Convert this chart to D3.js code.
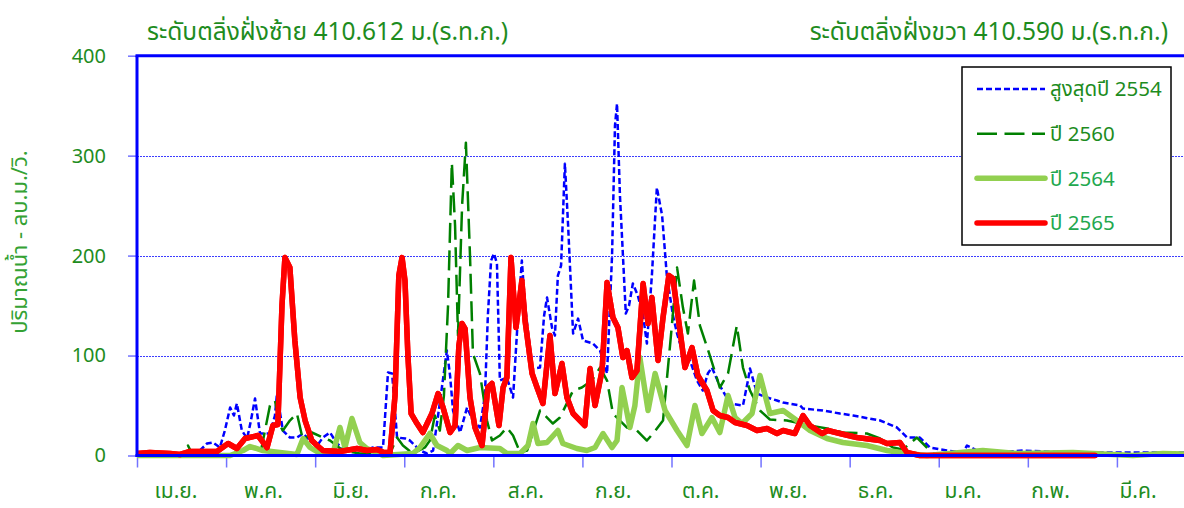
<!DOCTYPE html>
<html><head><meta charset="utf-8">
<script src="https://cdn.jsdelivr.net/npm/d3@7"></script>
<style>
body{margin:0;background:#fff}
svg{display:block;font-family:"Noto Sans Thai","Leelawadee UI",Tahoma,"Noto Sans",sans-serif}
</style>
</head><body>
<svg id="c" width="1184" height="508"></svg>
<script>
// ---- data ----
const months = ["เม.ย.","พ.ค.","มิ.ย.","ก.ค.","ส.ค.","ก.ย.","ต.ค.","พ.ย.","ธ.ค.","ม.ค.","ก.พ.","มี.ค."];
const yTicks = [0,100,200,300,400];
const titleLeft = "ระดับตลิ่งฝั่งซ้าย 410.612 ม.(ร.ท.ก.)";
const titleRight = "ระดับตลิ่งฝั่งขวา 410.590 ม.(ร.ท.ก.)";
const yTitle = "ปริมาณน้ำ - ลบ.ม./วิ.";
const seriesNames = ["สูงสุดปี 2554","ปี 2560","ปี 2564","ปี 2565"];

// [day from 1 Apr, m3/s]
const s2554 = [[0,0],[4.4,1],[12.3,1],[18.1,3],[21.5,5],[23.9,12],[25.9,13],[28.3,8],[30,25],[31.8,48],[33.1,40],[34.1,52],[35.8,25],[37.6,17],[38.9,35],[40.3,57],[42,22],[45.4,22],[47.1,40],[47.8,62],[49.8,25],[52.2,18],[54.6,18],[56.7,22],[59.1,15],[61.5,10],[63.5,18],[65.9,23],[68.3,12],[70.3,7],[73.7,5],[77.2,5],[80.6,8],[84,8],[85.7,83],[87.1,82],[88.8,18],[91.6,17],[93.2,15],[96.6,5],[99,2],[101.1,5],[102.8,40],[104.1,68],[105.8,105],[106.9,80],[107.9,45],[110.3,23],[112.7,48],[114.7,35],[117.1,28],[118.8,60],[119.8,140],[120.9,195],[121.9,202],[122.9,192],[123.9,75],[126.3,78],[128.4,58],[130.1,140],[131.4,195],[132.5,150],[134.9,87],[137.6,88],[139,140],[140,158],[141.7,128],[142.7,120],[143.7,180],[144.8,190],[146.1,292],[147.2,230],[148.9,122],[150.6,137],[152.3,115],[155.7,112],[158.1,105],[160.5,82],[162.2,200],[163.2,330],[163.9,352],[164.9,260],[166.9,142],[168,150],[169.3,172],[171,160],[172.8,140],[174.1,112],[175.8,180],[177.5,268],[179.3,240],[180.9,180],[183,140],[184.4,122],[186.4,102],[188.8,95],[191.2,75],[193.2,65],[194.9,82],[196.3,88],[199,70],[202.5,52],[206.9,50],[208.6,75],[209.3,87],[211.7,62],[215.1,58],[218.5,55],[220.6,53],[226.4,50],[227.4,47],[234.2,45],[240,42],[244.5,40],[253.7,35],[259.5,28],[262.9,18],[267.3,18],[270.7,8],[276.5,5],[282,3],[283.4,10],[286.8,5],[294.6,3],[302.5,5],[317.5,3],[342.4,3],[365,3]];

const s2560 = [[0,0],[14.7,0],[17.4,10],[19.1,0],[42,0],[43.7,25],[45.4,50],[47.1,55],[48.8,30],[49.8,25],[52.2,35],[54.6,42],[56.7,15],[59.7,23],[63.5,18],[65.9,15],[70.3,5],[76.1,2],[86.4,2],[88.8,18],[90.8,10],[94.2,2],[98.3,8],[100,15],[101.7,40],[103.4,25],[104.8,60],[106.2,150],[107.5,293],[108.6,230],[109.6,120],[111,250],[112.3,313],[113.7,200],[114.7,102],[117.1,82],[119.5,35],[121.2,15],[123.9,20],[126.3,28],[128.4,20],[130.8,3],[133.2,5],[137.6,45],[142,32],[144.4,38],[148.9,65],[151.9,68],[155.3,75],[158.1,88],[160.5,75],[162.5,42],[167.3,28],[170.7,25],[174.1,15],[176.2,22],[179.6,35],[182,110],[184.4,188],[186.4,148],[188.1,122],[190.2,175],[192.2,130],[195.6,100],[199,68],[201.8,82],[204.8,130],[206.9,88],[209.3,65],[212.7,45],[216.1,36],[221.9,35],[229.8,30],[235.6,27],[241,23],[249.2,22],[253.7,17],[258.1,8],[261.5,6],[266.3,18],[269.7,8],[271.8,2],[281,1],[300,0]];

const s2564 = [[0,0],[31.8,0],[36.2,5],[38.6,9],[43,5],[48.8,3],[54.6,1],[56.7,17],[59.1,8],[62.5,2],[66.9,2],[69.3,28],[71,8],[73.4,37],[76.1,13],[78.5,7],[84,0],[94.2,2],[96.6,8],[100,22],[102.4,10],[105.8,5],[106.9,2],[109.6,10],[112.7,5],[117.1,8],[123.9,7],[126.3,2],[130.8,2],[133.5,10],[135.2,32],[136.9,12],[140,13],[143.7,25],[145.4,12],[150.2,7],[153.6,5],[156.4,8],[159.1,22],[162.2,8],[163.9,15],[165.6,68],[168.3,28],[170,50],[171.7,98],[174.5,45],[176.9,82],[180.3,45],[184.4,25],[187.8,10],[190.5,50],[192.9,22],[196.3,38],[199,23],[201.8,60],[204.2,38],[206.6,32],[210,42],[212.7,80],[216.1,42],[220.6,45],[225.3,35],[229.8,25],[235.6,17],[241,13],[249.2,10],[256.1,5],[262.9,2],[269.7,0],[288.8,5],[300.4,2],[319.6,3],[340,0],[350.3,2],[365,1]];

const s2565 = [[0,2],[4.4,3],[11.3,2],[14.7,1],[18.1,4],[27.3,4],[31.1,12],[34.1,7],[36.9,17],[41.3,20],[44.4,8],[46.4,30],[48.1,31],[49.5,150],[50.5,198],[52.2,188],[53.9,115],[55.7,58],[57.4,35],[59.7,15],[61.5,10],[63.5,5],[69.3,4],[75.1,7],[78.5,5],[81.9,6],[84.3,3],[86.4,3],[88.1,60],[89.4,180],[90.5,198],[91.5,175],[92.5,100],[93.6,42],[95.6,32],[97.6,23],[100.7,42],[102.8,62],[104.5,48],[106.9,23],[108.6,30],[109.9,110],[111,132],[112,127],[113.7,58],[115.4,28],[117.8,10],[119.8,68],[121.2,72],[123.6,30],[125,68],[126.3,78],[127.7,198],[129.4,128],[131.4,175],[132.5,135],[134.9,82],[136.6,68],[138.6,52],[141,120],[142.7,62],[145.1,92],[146.8,58],[148.9,42],[152.9,30],[154.7,87],[156.4,50],[158.8,85],[160.5,173],[162.5,138],[164.2,128],[165.9,98],[167.3,105],[169,78],[170.7,85],[172.8,172],[174.5,132],[175.8,158],[177.9,95],[179.6,138],[181.6,180],[183,177],[185.4,125],[187.1,88],[189.5,108],[191.5,80],[194.6,65],[196.7,45],[199,40],[201.8,38],[204.2,33],[208.3,30],[211.7,25],[215.1,27],[218.5,22],[220.6,25],[224.6,22],[227.4,40],[229.8,30],[233.9,22],[235.9,25],[240,22],[245.8,18],[253.7,15],[256.1,12],[260.5,13],[262.9,3],[267.3,0],[327.1,0]];

// ---- styles ----
const styles = [
  {data:s2554, color:"#0000ff", width:2.5, dash:"6,3", cap:"butt", text:"#1e8c1e"},
  {data:s2560, color:"#008000", width:2.5, dash:"20,7.5", cap:"butt", text:"#1e8c1e"},
  {data:s2564, color:"#92d050", width:5.5, dash:null, cap:"round", text:"#22a84e"},
  {data:s2565, color:"#ff0000", width:5.5, dash:null, cap:"round", text:"#22a84e"}
];

const svg = d3.select("#c");
const x = d3.scaleLinear().domain([0,365]).range([137,1206]);
const y = d3.scaleLinear().domain([0,400]).range([455.5,55.7]);
const labelX = d3.scalePoint().domain(months).range([176,1138]);
const monthTicks = months.map((m,i)=>i*365/12);

// gridlines
svg.append("g").selectAll("line").data(yTicks.filter(v=>v>0&&v<400)).join("line")
  .attr("x1",x(0)).attr("x2",x(365)).attr("y1",d=>Math.round(y(d))+0.5).attr("y2",d=>Math.round(y(d))+0.5)
  .attr("stroke","#3c3cff").attr("stroke-width",1).attr("stroke-dasharray","2,1")
  .attr("shape-rendering","crispEdges");

// clip
svg.append("clipPath").attr("id","clip").append("rect")
  .attr("x",x(0)).attr("y",y(400)-4).attr("width",x(365)-x(0)).attr("height",y(0)-y(400)+8);

// y axis
const yAxis = svg.append("g").attr("transform",`translate(${x(0)},0)`)
  .call(d3.axisLeft(y).tickValues(yTicks).tickSize(9).tickPadding(22));
yAxis.select(".domain").remove();
yAxis.selectAll(".tick line").attr("stroke","#7373ff").attr("stroke-width",1.5);
yAxis.selectAll(".tick text").attr("fill","#1e8c1e").style("font-size","20px")
  .style("font-family","Tahoma,'Noto Sans Thai','Noto Sans',sans-serif");

// x axis ticks
const xAxis = svg.append("g").attr("transform",`translate(0,${y(0)})`)
  .call(d3.axisBottom(x).tickValues(monthTicks).tickSize(12).tickFormat(""));
xAxis.select(".domain").remove();
xAxis.selectAll(".tick line").attr("stroke","#7373ff").attr("stroke-width",1.5);

// x labels
svg.append("g").selectAll("text").data(months).join("text")
  .attr("x",d=>labelX(d)).attr("y",498).attr("text-anchor","middle")
  .attr("fill","#1e8c1e").style("font-size","21px").text(d=>d);

// series
const line = d3.line().x(d=>x(d[0])).y(d=>y(d[1])).curve(d3.curveLinear);
const gS = svg.append("g").attr("clip-path","url(#clip)");
styles.forEach(s=>{
  gS.append("path").datum(s.data).attr("d",line)
    .attr("fill","none").attr("stroke",s.color).attr("stroke-width",s.width)
    .attr("stroke-dasharray",s.dash).attr("stroke-linejoin","round").attr("stroke-linecap",s.cap);
});

// frame: left, top, bottom thick blue
const frame = svg.append("g").attr("stroke","#0000ff").attr("stroke-width",3);
frame.append("line").attr("x1",x(0)).attr("x2",x(0)).attr("y1",y(400)).attr("y2",y(0)+1.5);
frame.append("line").attr("x1",x(0)-1.5).attr("x2",x(365)).attr("y1",y(400)).attr("y2",y(400));
frame.append("line").attr("x1",x(0)-1.5).attr("x2",x(365)).attr("y1",y(0)).attr("y2",y(0));
// red drawn again on top of baseline
gS.append("path").datum(s2565).attr("d",line).attr("fill","none").attr("stroke","#ff0000")
  .attr("stroke-width",5.5).attr("stroke-linejoin","round").attr("stroke-linecap","round");

// titles
svg.append("text").attr("x",147).attr("y",40).attr("fill","#1e8c1e").style("font-size","24.5px").text(titleLeft);
svg.append("text").attr("x",1168).attr("y",40).attr("text-anchor","end").attr("fill","#1e8c1e").style("font-size","24.5px").text(titleRight);

// y title
svg.append("text").attr("transform","translate(27,242) rotate(-90)").attr("text-anchor","middle")
  .attr("fill","#34a234").style("font-size","22px").text(yTitle);

// legend
const lg = svg.append("g");
lg.append("rect").attr("x",962).attr("y",67).attr("width",209).attr("height",178)
  .attr("fill","#fff").attr("stroke","#000").attr("stroke-width",1.5);
const ly = d3.scalePoint().domain(seriesNames).range([89,223]);
styles.forEach((s,i)=>{
  const n = seriesNames[i];
  lg.append("line").attr("x1",977).attr("x2",1045).attr("y1",ly(n)).attr("y2",ly(n))
    .attr("stroke",s.color).attr("stroke-width",s.width).attr("stroke-dasharray",s.dash).attr("stroke-linecap",s.cap);
  lg.append("text").attr("x",1050).attr("y",ly(n)).attr("dy","0.35em").attr("fill",s.text)
    .style("font-size","20.5px").text(n);
});
</script>
</body></html>
